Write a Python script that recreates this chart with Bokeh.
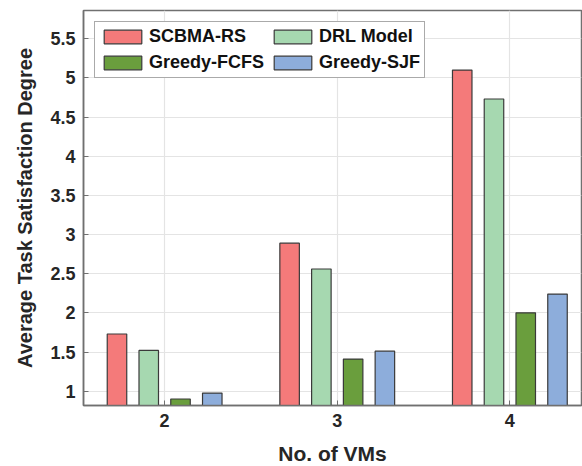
from bokeh.plotting import figure
from bokeh.models import ColumnDataSource, Legend, LegendItem, FixedTicker, Range1d
from bokeh.transform import dodge
from bokeh.embed import file_html
from bokeh.resources import INLINE

vms = [2, 3, 4]
scbma_rs = [1.73, 2.89, 5.10]
drl_model = [1.52, 2.56, 4.73]
greedy_fcfs = [0.90, 1.41, 2.00]
greedy_sjf = [0.975, 1.51, 2.24]
series_names = ["SCBMA-RS", "DRL Model", "Greedy-FCFS", "Greedy-SJF"]
y_ticks = [1, 1.5, 2, 2.5, 3, 3.5, 4, 4.5, 5, 5.5]
y_tick_labels = {1: "1", 1.5: "1.5", 2: "2", 2.5: "2.5", 3: "3", 3.5: "3.5", 4: "4", 4.5: "4.5", 5: "5", 5.5: "5.5"}

colors = ["#F47A7A", "#A6D8B0", "#6A9E3D", "#8DADDB"]
FONT = "Liberation Sans"

source = ColumnDataSource(dict(x=vms, a=scbma_rs, b=drl_model, c=greedy_fcfs, d=greedy_sjf))

p = figure(output_backend="svg", toolbar_location=None,
           x_range=Range1d(1.53, 4.415), y_range=Range1d(0.817, 5.86),
           frame_width=498, frame_height=395,
           min_border_left=83, min_border_top=10, min_border_bottom=61, min_border_right=1)
p.background_fill_color = "white"
p.border_fill_color = "white"
p.outline_line_color = "#707070"
p.outline_line_width = 1.5

offsets = [-0.276, -0.092, 0.092, 0.276]
cols = ["a", "b", "c", "d"]
renderers = []
for off, col, color in zip(offsets, cols, colors):
    r = p.vbar(x=dodge("x", off, range=p.x_range), top=col, bottom=0, width=0.113,
               source=source, fill_color=color, line_color="#3a3a3a", line_width=1.2)
    renderers.append(r)

for ax in [p.xaxis[0], p.yaxis[0]]:
    ax.axis_line_color = "#707070"
    ax.axis_line_width = 1.5
    ax.major_tick_in = 5
    ax.major_tick_out = 0
    ax.minor_tick_line_color = None
    ax.major_tick_line_color = "#707070"
    ax.major_label_text_font = FONT
    ax.major_label_text_font_style = "bold"
    ax.major_label_text_font_size = "18px"
    ax.major_label_text_color = "#262626"
    ax.axis_label_text_font = FONT
    ax.axis_label_text_font_style = "bold"
    ax.axis_label_text_color = "#262626"
    ax.major_label_standoff = 8

p.xaxis.ticker = FixedTicker(ticks=vms)
p.yaxis.ticker = FixedTicker(ticks=y_ticks)
p.yaxis.major_label_overrides = y_tick_labels
p.xaxis.axis_label = "No. of VMs"
p.yaxis.axis_label = "Average Task Satisfaction Degree"
p.xaxis.axis_label_text_font_size = "21px"
p.yaxis.axis_label_text_font_size = "20px"
p.xaxis.axis_label_standoff = 12
p.yaxis.axis_label_standoff = 11

p.xgrid.ticker = FixedTicker(ticks=vms)
p.ygrid.ticker = FixedTicker(ticks=y_ticks)
p.grid.grid_line_color = "#e4e4e4"
p.grid.grid_line_width = 1.2

legend = Legend(items=[LegendItem(label=n, renderers=[r]) for n, r in zip(series_names, renderers)],
                location="top_left", orientation="horizontal", nrows=2,
                margin=11, padding=4, spacing=5,
                glyph_width=47, glyph_height=17, label_standoff=3,
                label_text_font=FONT, label_text_font_style="bold",
                label_text_font_size="18px", label_text_color="#111111",
                border_line_color="#555555", border_line_width=1.5,
                background_fill_color="white", background_fill_alpha=1.0)
p.add_layout(legend)

open("out.html", "w").write(file_html(p, INLINE))
